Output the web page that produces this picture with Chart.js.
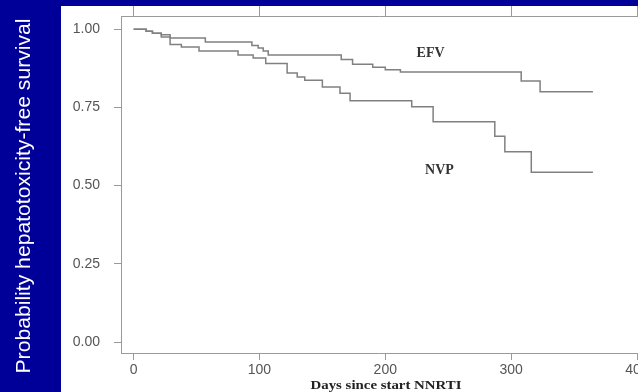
<!DOCTYPE html>
<html>
<head>
<meta charset="utf-8">
<script src="https://cdn.jsdelivr.net/npm/chart.js@4"></script>
<style>
html,body{margin:0;padding:0;background:#000099;}
canvas{display:block;}
</style>
</head>
<body>
<canvas id="c" width="638" height="392"></canvas>
<script>
// Kaplan-Meier data (day of event, survival after event)
const efvDays = [0, 10, 15, 22, 29, 57, 94, 99, 103, 107, 165, 174, 190, 200, 212, 308, 323, 365];
const efvSurv = [1, 0.993, 0.987, 0.982, 0.972, 0.959, 0.948, 0.94, 0.93, 0.917, 0.903, 0.888, 0.878, 0.87, 0.863, 0.834, 0.80, 0.80];
const nvpDays = [0, 10, 15, 22, 29, 38, 52, 83, 95, 105, 122, 130, 136, 150, 164, 172, 221, 238, 287, 295, 316, 365];
const nvpSurv = [1, 0.993, 0.987, 0.975, 0.951, 0.943, 0.930, 0.917, 0.908, 0.890, 0.860, 0.847, 0.837, 0.815, 0.795, 0.771, 0.752, 0.704, 0.658, 0.608, 0.543, 0.543];
const xTicks = [0, 100, 200, 300, 400];
const yTicks = [0, 0.25, 0.5, 0.75, 1];
const seriesNames = ['EFV', 'NVP'];
const yTitle = 'Probability hepatotoxicity-free survival';
const xTitle = 'Days since start NNRTI';

const axisGray = '#9a9a9a';
const lineGray = '#808080';

const decor = {
  id: 'decor',
  beforeDraw(chart) {
    const {ctx, width, height} = chart;
    ctx.save();
    ctx.fillStyle = '#000099';
    ctx.fillRect(0, 0, width, height);
    ctx.fillStyle = '#ffffff';
    ctx.fillRect(61, 6, width - 61, height - 6);
    ctx.restore();
  },
  afterDraw(chart) {
    const {ctx} = chart;
    const xs = chart.scales.x, ys = chart.scales.y;
    ctx.save();
    // y title
    ctx.translate(24, 196);
    ctx.rotate(-Math.PI / 2);
    ctx.font = '20px "Liberation Sans", Arial, sans-serif';
    ctx.fillStyle = '#ffffff';
    ctx.textAlign = 'center';
    ctx.textBaseline = 'middle';
    const w = ctx.measureText(yTitle).width;
    ctx.scale(355 / w, 1);
    ctx.fillText(yTitle, 0, 0);
    ctx.restore();

    // x title
    ctx.save();
    ctx.font = 'bold 13px "Liberation Serif", "Times New Roman", serif';
    ctx.fillStyle = '#222222';
    ctx.textAlign = 'center';
    ctx.textBaseline = 'alphabetic';
    const wx = ctx.measureText(xTitle).width;
    ctx.translate(386, 389);
    ctx.scale(151 / wx, 1);
    ctx.fillText(xTitle, 0, 0);
    ctx.restore();

    // series labels
    ctx.save();
    ctx.font = 'bold 14px "Liberation Serif", "Times New Roman", serif';
    ctx.fillStyle = '#333333';
    ctx.textAlign = 'center';
    ctx.textBaseline = 'middle';
    ctx.fillText(seriesNames[0], xs.getPixelForValue(236), ys.getPixelForValue(0.923));
    ctx.fillText(seriesNames[1], xs.getPixelForValue(243), ys.getPixelForValue(0.549));
    ctx.restore();
  }
};

const setX = s => { s.ticks = xTicks.map(v => ({value: v})); };
const noPadH = h => s => { s.height = h; s.paddingLeft = 0; s.paddingRight = 0; };

new Chart(document.getElementById('c'), {
  type: 'line',
  data: {
    datasets: [
      {
        label: seriesNames[0],
        data: efvDays.map((d, i) => ({x: d, y: efvSurv[i]})),
        stepped: 'before',
        borderColor: lineGray,
        borderWidth: 1.5,
        pointRadius: 0,
        fill: false
      },
      {
        label: seriesNames[1],
        data: nvpDays.map((d, i) => ({x: d, y: nvpSurv[i]})),
        stepped: 'before',
        borderColor: lineGray,
        borderWidth: 1.5,
        pointRadius: 0,
        fill: false
      }
    ]
  },
  options: {
    responsive: false,
    animation: false,
    layout: {padding: {left: 0, right: 1, top: 6, bottom: 0}},
    plugins: {legend: {display: false}, tooltip: {enabled: false}, title: {display: false}},
    scales: {
      x: {
        type: 'linear', position: 'bottom', min: -10, max: 400,
        afterBuildTicks: setX,
        afterFit: noPadH(39),
        grid: {drawOnChartArea: false, drawTicks: true, tickLength: 7, color: axisGray, lineWidth: 1},
        border: {display: true, color: axisGray, width: 1},
        ticks: {
          font: {family: '"Liberation Sans", Arial, sans-serif', size: 14},
          color: '#555555', padding: 2, maxRotation: 0, autoSkip: false,
          callback: v => String(v)
        }
      },
      x2: {
        type: 'linear', position: 'top', min: -10, max: 400,
        afterBuildTicks: setX,
        afterFit: noPadH(10),
        grid: {drawOnChartArea: false, drawTicks: true, tickLength: 10, color: axisGray, lineWidth: 1},
        border: {display: true, color: axisGray, width: 1},
        ticks: {display: false}
      },
      y: {
        type: 'linear', position: 'left', min: -0.035, max: 1.042,
        afterBuildTicks: s => { s.ticks = yTicks.map(v => ({value: v})); },
        afterFit: s => { s.width = 121; s.paddingTop = 0; s.paddingBottom = 0; },
        grid: {drawOnChartArea: false, drawTicks: true, tickLength: 7, color: axisGray, lineWidth: 1},
        border: {display: true, color: axisGray, width: 1},
        ticks: {
          font: {family: '"Liberation Sans", Arial, sans-serif', size: 14},
          color: '#555555', padding: 14,
          callback: v => Number(v).toFixed(2)
        }
      }
    }
  },
  plugins: [decor]
});
</script>
</body>
</html>
